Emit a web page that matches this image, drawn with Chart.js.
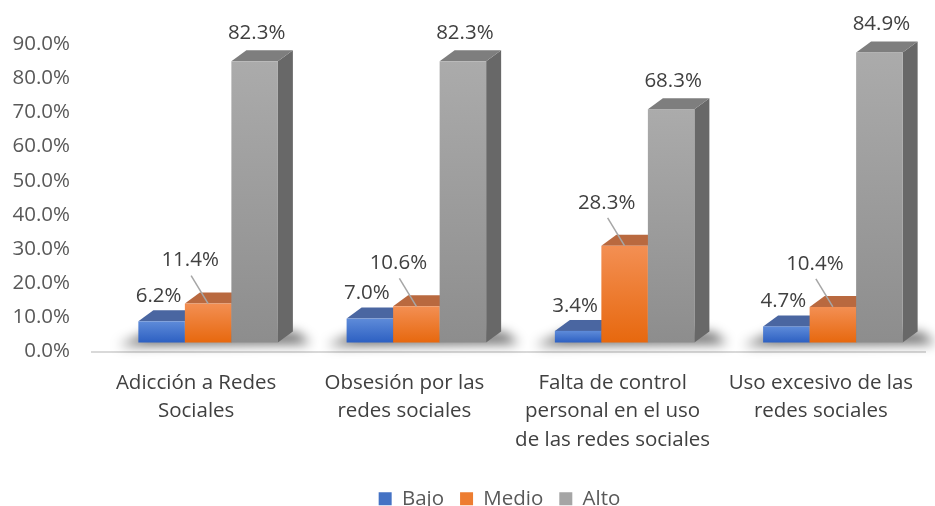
<!DOCTYPE html>
<html>
<head>
<meta charset="utf-8">
<script src="https://cdn.jsdelivr.net/npm/chart.js@4"></script>
<style>
  html, body { margin: 0; padding: 0; background: #fff; }
  #caja { width: 935px; height: 506px; }
</style>
</head>
<body>
<div id="caja"><canvas id="miGrafico"></canvas></div>
<script>
// DATOS
const categorias = [
  ['Adicción a Redes', 'Sociales'],
  ['Obsesión por las', 'redes sociales'],
  ['Falta de control', 'personal en el uso', 'de las redes sociales'],
  ['Uso excesivo de las', 'redes sociales']
];
const series = ['Bajo', 'Medio', 'Alto'];
const bajo = [6.2, 7.0, 3.4, 4.7];
const medio = [11.4, 10.6, 28.3, 10.4];
const alto = [82.3, 82.3, 68.3, 84.9];
const ticksY = [0, 10, 20, 30, 40, 50, 60, 70, 80, 90];

// colores: [arriba frente, abajo frente, cara superior, cara lateral]
const colores = [
  ['#5e8bd9', '#2d60c2', '#4a66a1', '#34508a'],
  ['#f38f53', '#e7680e', '#b9693f', '#a5522a'],
  ['#ababab', '#8d8d8d', '#7e7e7e', '#686868']
];
const fuente = 'Open Sans';
const tam = 20.5;

// profundidad 3D y desplazamiento del suelo
const dx = 15, dy = 11, sx = 12, sy = -9;

const barras3D = {
  id: 'barras3D',
  afterLayout(chart) {
    // la leyenda del original esta algo corrida a la derecha
    chart.legend.left += 32;
    chart.legend.right += 32;
  },
  beforeDatasetsDraw(chart) {
    const ctx = chart.ctx;
    const metas = chart.data.datasets.map((d, i) => chart.getDatasetMeta(i));
    const n = chart.data.labels.length;

    // sombra en el suelo
    ctx.save();
    ctx.filter = 'blur(6px)';
    ctx.fillStyle = 'rgba(0,0,0,0.6)';
    for (let j = 0; j < n; j++) {
      const b0 = metas[0].data[j].getProps(['x', 'width', 'base'], true);
      const b2 = metas[metas.length - 1].data[j].getProps(['x', 'width'], true);
      const l = b0.x - b0.width / 2 + sx;
      const r = b2.x + b2.width / 2 + sx;
      const base = b0.base + sy;
      ctx.beginPath();
      ctx.moveTo(l - 20, base + 3);
      ctx.lineTo(r + dx + 18, base + 1);
      ctx.lineTo(r + dx + 4, base - dy + 1);
      ctx.lineTo(l + dx - 4, base - dy + 1);
      ctx.closePath();
      ctx.fill();
    }
    ctx.restore();

    for (let j = 0; j < n; j++) {
      metas.forEach((meta, i) => {
        const b = meta.data[j].getProps(['x', 'y', 'width', 'base'], true);
        const c = colores[i];
        const l = b.x - b.width / 2 + sx;
        const r = b.x + b.width / 2 + sx;
        const t = b.y + sy;
        const bo = b.base + sy;

        // lateral
        ctx.fillStyle = c[3];
        ctx.beginPath();
        ctx.moveTo(r, bo); ctx.lineTo(r, t); ctx.lineTo(r + dx, t - dy); ctx.lineTo(r + dx, bo - dy);
        ctx.closePath(); ctx.fill();

        // superior
        ctx.fillStyle = c[2];
        ctx.beginPath();
        ctx.moveTo(l, t); ctx.lineTo(r, t); ctx.lineTo(r + dx, t - dy); ctx.lineTo(l + dx, t - dy);
        ctx.closePath(); ctx.fill();

        // frente
        const g = ctx.createLinearGradient(0, t, 0, bo);
        g.addColorStop(0, c[0]);
        g.addColorStop(1, c[1]);
        ctx.fillStyle = g;
        ctx.fillRect(l, t, r - l, bo - t);
      });
    }
    return false;
  },
  afterDraw(chart) {
    const ctx = chart.ctx;
    ctx.save();
    ctx.font = tam + 'px "' + fuente + '"';
    ctx.fillStyle = '#404040';
    ctx.textAlign = 'center';
    ctx.textBaseline = 'middle';
    const n = chart.data.labels.length;
    chart.data.datasets.forEach((ds, i) => {
      const meta = chart.getDatasetMeta(i);
      for (let j = 0; j < n; j++) {
        const b = meta.data[j].getProps(['x', 'y'], true);
        const x = b.x + sx, t = b.y + sy;
        const txt = ds.data[j].toFixed(1) + '%';
        if (i === 0) {
          ctx.fillText(txt, x - 3, t - 25);
        } else if (i === 1) {
          ctx.fillText(txt, x - 18, t - 43);
          ctx.strokeStyle = '#a6a6a6';
          ctx.lineWidth = 1.5;
          ctx.beginPath();
          ctx.moveTo(x - 17, t - 28);
          ctx.lineTo(x, t);
          ctx.stroke();
        } else {
          ctx.fillText(txt, x + 2, t - 28);
        }
      }
    });
    ctx.restore();
  }
};

const ctx = document.getElementById('miGrafico').getContext('2d');
const miGrafico = new Chart(ctx, {
  type: 'bar',
  data: {
    labels: categorias,
    datasets: [
      { label: series[0], data: bajo, backgroundColor: '#4472c4' },
      { label: series[1], data: medio, backgroundColor: '#ed7d31' },
      { label: series[2], data: alto, backgroundColor: '#a5a5a5' }
    ]
  },
  options: {
    responsive: true,
    maintainAspectRatio: false,
    animation: false,
    layout: { padding: { top: 44, right: 10, left: 10, bottom: -13 } },
    datasets: { bar: { categoryPercentage: 0.67, barPercentage: 1.0 } },
    scales: {
      y: {
        min: 0,
        max: 90,
        afterBuildTicks: (axis) => { axis.ticks = ticksY.map(v => ({ value: v })); },
        afterFit: (axis) => { axis.width = 82; },
        grid: { display: false, drawTicks: false },
        border: { display: false },
        ticks: {
          padding: 22,
          color: '#595959',
          font: { family: fuente, size: tam },
          callback: (v) => v.toFixed(1) + '%'
        }
      },
      x: {
        afterFit: (axis) => { axis.height = 121; },
        grid: { display: false, drawTicks: false },
        border: { display: true, color: '#d9d9d9', width: 2 },
        ticks: {
          padding: 18,
          color: '#404040',
          maxRotation: 0,
          font: { family: fuente, size: tam, lineHeight: 1.37 }
        }
      }
    },
    plugins: {
      legend: {
        position: 'bottom',
        labels: {
          boxWidth: 13,
          boxHeight: 13,
          padding: 16,
          color: '#595959',
          font: { family: fuente, size: tam }
        }
      },
      tooltip: { enabled: false }
    }
  },
  plugins: [barras3D]
});
</script>
</body>
</html>
